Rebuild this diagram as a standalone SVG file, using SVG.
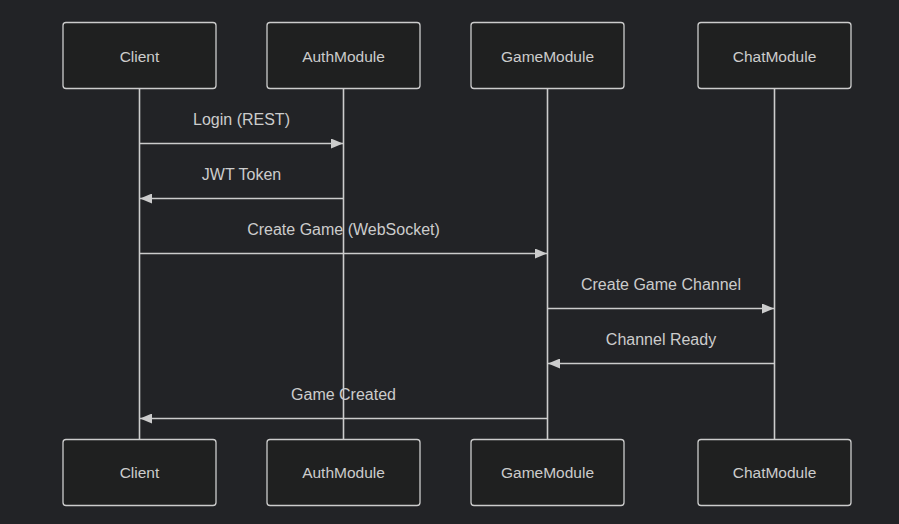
<svg xmlns="http://www.w3.org/2000/svg" width="899" height="524" viewBox="0 0 899 524">
<style>
.bg{fill:#222326}
.actor rect{fill:#1f2020;stroke:#cccccc;stroke-width:1.3}
.actor text{fill:#cccccc;font-family:"Liberation Sans","DejaVu Sans",sans-serif;font-size:15.5px;text-anchor:middle;dominant-baseline:central}
.life{stroke:#cccccc;stroke-width:1.6}
.msg{stroke:#cccccc;stroke-width:1.6;fill:none;marker-end:url(#ah)}
.lbl{fill:#cccccc;font-family:"Liberation Sans","DejaVu Sans",sans-serif;font-size:16px;text-anchor:middle}
</style>
<defs>
<marker id="ah" markerWidth="12" markerHeight="10" refX="12" refY="5" orient="auto" markerUnits="userSpaceOnUse">
<path d="M0,0 L12,5 L0,10 z" fill="#cccccc"/>
</marker>
</defs>
<rect class="bg" x="0" y="0" width="899" height="524"/>
<g id="lifelines">
<line class="life" x1="139.5" y1="89" x2="139.5" y2="439"/>
<line class="life" x1="343.5" y1="89" x2="343.5" y2="439"/>
<line class="life" x1="547.5" y1="89" x2="547.5" y2="439"/>
<line class="life" x1="774.5" y1="89" x2="774.5" y2="439"/>
</g>
<g id="client-top" class="actor"><rect x="63" y="22.5" width="153" height="66" rx="3"/><text x="139.5" y="56">Client</text></g>
<g id="auth-top" class="actor"><rect x="267" y="22.5" width="153" height="66" rx="3"/><text x="343.5" y="56">AuthModule</text></g>
<g id="game-top" class="actor"><rect x="471" y="22.5" width="153" height="66" rx="3"/><text x="547.5" y="56">GameModule</text></g>
<g id="chat-top" class="actor"><rect x="698" y="22.5" width="153" height="66" rx="3"/><text x="774.5" y="56">ChatModule</text></g>
<g id="client-bottom" class="actor"><rect x="63" y="439.5" width="153" height="66" rx="3"/><text x="139.5" y="472">Client</text></g>
<g id="auth-bottom" class="actor"><rect x="267" y="439.5" width="153" height="66" rx="3"/><text x="343.5" y="472">AuthModule</text></g>
<g id="game-bottom" class="actor"><rect x="471" y="439.5" width="153" height="66" rx="3"/><text x="547.5" y="472">GameModule</text></g>
<g id="chat-bottom" class="actor"><rect x="698" y="439.5" width="153" height="66" rx="3"/><text x="774.5" y="472">ChatModule</text></g>
<g id="messages">
<text class="lbl" x="241.5" y="125">Login (REST)</text>
<line class="msg" x1="140" y1="143.5" x2="343" y2="143.5"/>
<text class="lbl" x="241.5" y="180">JWT Token</text>
<line class="msg" x1="343" y1="198.5" x2="140" y2="198.5"/>
<text class="lbl" x="343.5" y="235">Create Game (WebSocket)</text>
<line class="msg" x1="140" y1="253.5" x2="547" y2="253.5"/>
<text class="lbl" x="661" y="290">Create Game Channel</text>
<line class="msg" x1="548" y1="308.5" x2="774" y2="308.5"/>
<text class="lbl" x="661" y="345">Channel Ready</text>
<line class="msg" x1="774" y1="363.5" x2="548" y2="363.5"/>
<text class="lbl" x="343.5" y="400">Game Created</text>
<line class="msg" x1="547" y1="418.5" x2="140" y2="418.5"/>
</g>
</svg>
